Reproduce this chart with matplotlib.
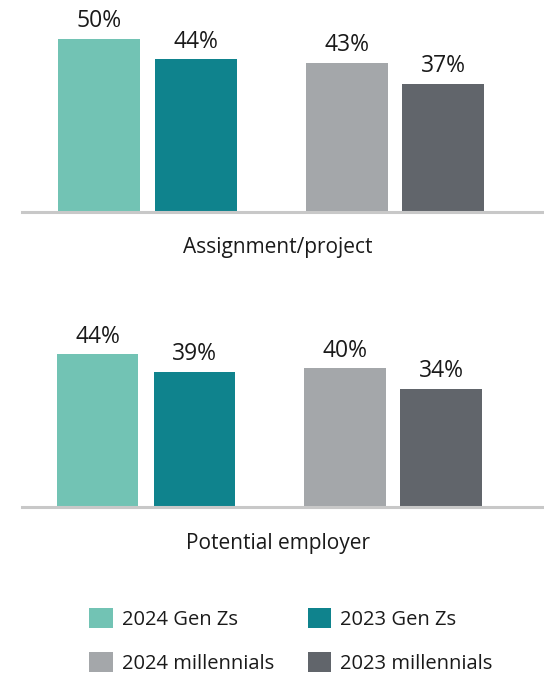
import numpy as np
import matplotlib.pyplot as plt
from matplotlib.patches import Patch

plt.rcParams['font.family'] = ['Open Sans', 'DejaVu Sans']

series = ['2024 Gen Zs', '2023 Gen Zs', '2024 millennials', '2023 millennials']
colors = ['#72c3b4', '#0f838d', '#a4a7aa', '#61656b']
panels = ['Assignment/project', 'Potential employer']
values = {
    'Assignment/project': [50, 44, 43, 37],
    'Potential employer': [44, 39, 40, 34],
}

# bar slots: two pairs with a wider gap between them
pos = np.array([0, 1, 2.556, 3.546])
W, H = 544, 678
fig = plt.figure(figsize=(W / 100, H / 100), dpi=100)

# pixel layout of each panel: (baseline y, x shift)
layout = [(212, 0), (507, -1.5)]
px_per_unit = 97.0
px_per_pct = 3.47
ymax = 55

for name, (base, shift) in zip(panels, layout):
    left = 22
    right = 544
    top = base - ymax * px_per_pct
    ax = fig.add_axes([left / W, (H - base) / H, (right - left) / W, (base - top) / H])
    x0 = (left - (99 + shift)) / px_per_unit
    x1 = (right - (99 + shift)) / px_per_unit
    bars = ax.bar(pos, values[name], width=0.845, color=colors, zorder=2)
    for b, v in zip(bars, values[name]):
        ax.annotate(f'{v}%', (b.get_x() + b.get_width() / 2, v), xytext=(0, 4),
                    textcoords='offset points', ha='center', va='bottom',
                    fontsize=16.5, color='#1a1a1a')
    ax.set_xlim(x0, x1)
    ax.set_ylim(0, ymax)
    for s in ['top', 'right', 'left']:
        ax.spines[s].set_visible(False)
    ax.spines['bottom'].set_color('#c8c8c8')
    ax.spines['bottom'].set_linewidth(2.2)
    ax.spines['bottom'].set_zorder(3)
    ax.set_yticks([])
    ax.set_xticks([])
    ax.text(0.5 * (x0 + x1) - 0.05, -36 / px_per_pct, name, ha='center', va='center',
            fontsize=15, color='#1a1a1a', clip_on=False)

handles = [Patch(facecolor=c, edgecolor='none') for c in colors]
order = [0, 2, 1, 3]
fig.legend([handles[i] for i in order], [series[i] for i in order],
           ncol=2, loc='center', bbox_to_anchor=(291 / W, 1 - 641 / H),
           frameon=False, fontsize=14.5, handlelength=1.15, handleheight=1.15,
           handletextpad=0.45, columnspacing=1.7, labelspacing=1.1,
           borderpad=0, labelcolor='#1a1a1a')

fig.savefig('out.png', dpi=100)
